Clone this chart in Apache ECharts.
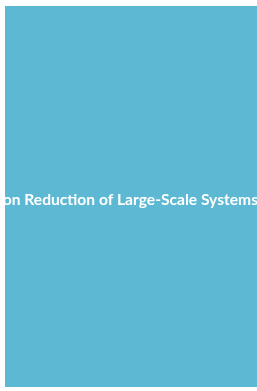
<!DOCTYPE html>
<html style="height: 100%">
<head>
  <meta charset="utf-8">
  <script src="https://cdn.jsdelivr.net/npm/echarts@6/dist/echarts.min.js"></script>
</head>
<body style="height: 100%; margin: 0; background: #fff">
  <div id="main" style="width: 257px; height: 391px"></div>
  <script type="text/javascript">
    var titleText = 'Dimension Reduction of Large-Scale Systems';
    var coverColor = '#5DB9D3';

    var myChart = echarts.init(document.getElementById('main'));
    var option = {
      backgroundColor: '#ffffff',
      animation: false,
      graphic: [
        {
          type: 'rect',
          shape: { x: 5, y: 6, width: 252, height: 381 },
          style: { fill: coverColor }
        },
        {
          type: 'text',
          x: 258,
          y: 200,
          style: {
            text: titleText,
            fill: '#ffffff',
            font: 'bold 15.6px Lato, "Open Sans", sans-serif',
            textAlign: 'right',
            textVerticalAlign: 'middle'
          }
        }
      ]
    };
    myChart.setOption(option);
  </script>
</body>
</html>
